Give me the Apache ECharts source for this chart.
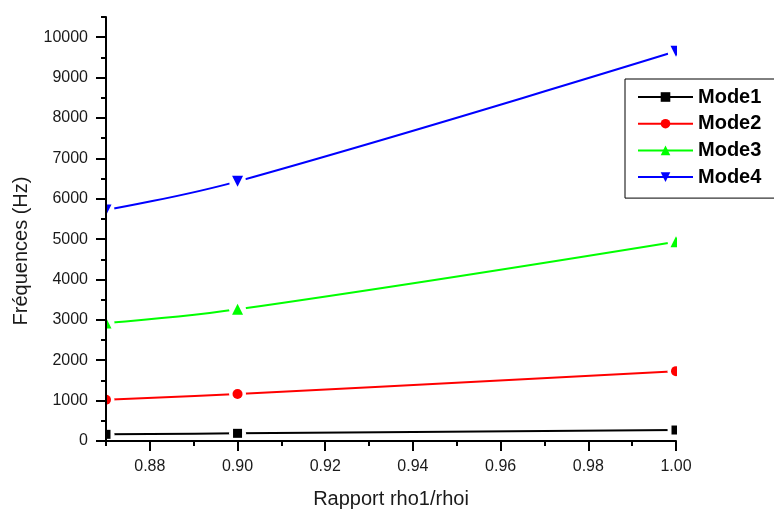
<!DOCTYPE html>
<html>
<head>
<meta charset="utf-8">
<script src="https://cdn.jsdelivr.net/npm/echarts@6/dist/echarts.min.js"></script>
<style>html,body{margin:0;padding:0;background:#fff}#c{width:774px;height:509px}</style>
</head>
<body>
<div id="c"></div>
<script>
const xValues = [0.87, 0.90, 1.00];
const mode1 = [165, 190, 272];
const mode2 = [1020, 1165, 1730];
const mode3 = [2920, 3260, 4935];
const mode4 = [5720, 6430, 9650];
const seriesNames = ['Mode1', 'Mode2', 'Mode3', 'Mode4'];
const seriesColors = ['#000000', '#ff0000', '#00ff00', '#0000ff'];
const seriesSymbols = ['rect', 'circle', 'triangle', 'triangle'];
const symbolRotates = [0, 0, 0, 180];
const symbolSizes = [9, 10, 11, 11];
const xMajorTicks = [0.88, 0.90, 0.92, 0.94, 0.96, 0.98, 1.00];
const yMajorTicks = [0, 1000, 2000, 3000, 4000, 5000, 6000, 7000, 8000, 9000, 10000];

const allData = [mode1, mode2, mode3, mode4];
const FONT = '"Liberation Sans", Arial, Helvetica, sans-serif';
const chart = echarts.init(document.getElementById('c'), null, {renderer: 'canvas'});

const series = [];
allData.forEach((vals, i) => {
  const pts = xValues.map((x, k) => [x, vals[k]]);
  series.push({
    name: seriesNames[i], type: 'line', data: pts, smooth: 0.4,
    symbol: seriesSymbols[i], symbolRotate: symbolRotates[i], symbolSize: symbolSizes[i],
    showSymbol: false, clip: false, z: 2, zlevel: 0,
    lineStyle: {color: seriesColors[i], width: 2},
    itemStyle: {color: seriesColors[i], opacity: 1}
  });
});
allData.forEach((vals, i) => {
  const pts = xValues.map((x, k) => [x, vals[k]]);
  series.push({
    name: 'halo' + i, type: 'scatter', data: pts, symbol: 'circle', symbolSize: 17,
    itemStyle: {color: '#ffffff', opacity: 1, borderWidth: 0}, z: 3, zlevel: 0, silent: true,
    emphasis: {disabled: true}
  });
});
allData.forEach((vals, i) => {
  const pts = xValues.map((x, k) => [x, vals[k]]);
  series.push({
    name: 'mk' + i, type: 'scatter', data: pts, symbol: seriesSymbols[i],
    symbolRotate: symbolRotates[i], symbolSize: symbolSizes[i],
    itemStyle: {color: seriesColors[i], opacity: 1}, z: 4, zlevel: 0, silent: true,
    emphasis: {disabled: true}
  });
});

const axisLineStyle = {color: '#000', width: 2};
chart.setOption({
  animation: false,
  backgroundColor: '#ffffff',
  grid: {left: 106, right: 98, top: 17, bottom: 68, containLabel: false, outerBoundsMode: 'none'},
  legend: {
    data: seriesNames, orient: 'vertical', left: 625, top: 79, z: 7,
    padding: [8, 60, 11, 12], itemGap: 6.7, itemWidth: 55, itemHeight: 12, itemTextGap: 7,
    borderColor: '#000', borderWidth: 1, backgroundColor: '#fff',
    textStyle: {fontFamily: FONT, fontSize: 20, fontWeight: 'bold', color: '#000', lineHeight: 20},
    selectedMode: false
  },
  xAxis: [{
    type: 'value', min: 0.87, max: 1.00, interval: 0.01, position: 'bottom', z: 6,
    axisLine: {show: true, onZero: false, lineStyle: axisLineStyle},
    axisTick: {show: true, inside: false, length: 5, lineStyle: {color: '#000', width: 2}},
    axisLabel: {margin: 18, fontFamily: FONT, fontSize: 16, color: '#1a1a1a',
      formatter: v => { const r = Math.round(v * 100); return (r % 2 === 0) ? (r / 100).toFixed(2) : ''; }},
    splitLine: {show: false},
    name: 'Rapport rho1/rhoi', nameLocation: 'middle', nameGap: 48,
    nameTextStyle: {fontFamily: FONT, fontSize: 20, color: '#1a1a1a'}
  }, {
    type: 'value', min: 0.87, max: 1.00, interval: 0.01, position: 'bottom', offset: 0, z: 6,
    axisLine: {show: false},
    axisTick: {show: true, inside: false, length: 10, customValues: xMajorTicks, lineStyle: {color: '#000', width: 2}},
    axisLabel: {show: false}, splitLine: {show: false}
  }],
  yAxis: [{
    type: 'value', min: 0, max: 10500, interval: 500, position: 'left', z: 6,
    axisLine: {show: true, onZero: false, lineStyle: axisLineStyle},
    axisTick: {show: true, inside: false, length: 5, lineStyle: {color: '#000', width: 2}},
    axisLabel: {margin: 18, fontFamily: FONT, fontSize: 16, color: '#1a1a1a',
      formatter: v => (v % 1000 === 0 && v <= 10000) ? String(v) : ''},
    splitLine: {show: false}
  }, {
    type: 'value', min: 0, max: 10500, interval: 500, position: 'left', offset: 0, z: 6,
    axisLine: {show: false},
    axisTick: {show: true, inside: false, length: 10, customValues: yMajorTicks, lineStyle: {color: '#000', width: 2}},
    axisLabel: {show: false}, splitLine: {show: false}
  }],
  graphic: [
    {type: 'rect', z: 5, silent: true, shape: {x: 0, y: 0, width: 105, height: 509}, style: {fill: '#fff'}},
    {type: 'rect', z: 5, silent: true, shape: {x: 677, y: 0, width: 97, height: 509}, style: {fill: '#fff'}},
    {type: 'text', z: 8, x: 21, y: 251, rotation: Math.PI / 2,
      style: {text: 'Fréquences (Hz)', fontFamily: FONT, fontSize: 20, fill: '#1a1a1a',
        textAlign: 'center', textVerticalAlign: 'middle', align: 'center', verticalAlign: 'middle'}}
  ],
  series: series
});
</script>
</body>
</html>
